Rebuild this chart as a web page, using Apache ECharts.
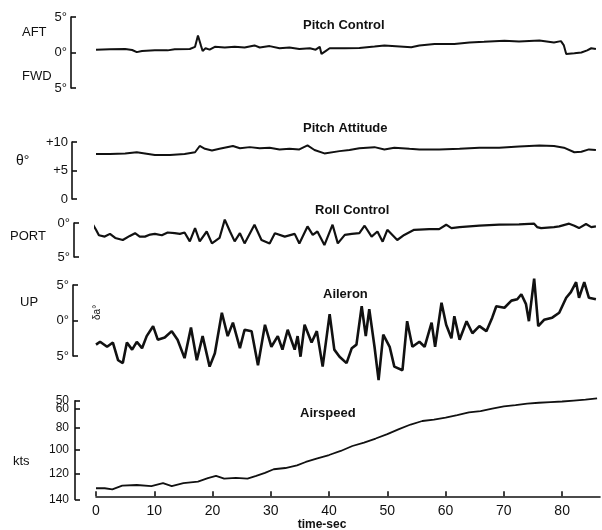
<!DOCTYPE html>
<html>
<head>
<meta charset="utf-8">
<script src="https://cdn.jsdelivr.net/npm/echarts@6/dist/echarts.min.js"></script>
<style>
  html, body { margin: 0; padding: 0; background: #fff; }
  #chart { width: 602px; height: 530px; }
</style>
</head>
<body>
<div id="chart"></div>
<script>
/* -------------------------------------------------------------------------- */
/*                      Transition time history, 5 panels                     */
/* -------------------------------------------------------------------------- */
// [time sec, value]
var pitchControl = [
  [0, 0.4], [2.4, 0.45], [5.0, 0.5], [6.2, 0.35], [7.0, 0.05], [7.9, 0.2], [10.1, 0.3],
  [12.3, 0.3], [13.5, 0.45], [16.1, 0.5], [17.0, 0.8], [17.5, 2.4], [18.0, 1.0], [18.3, 0.2],
  [18.8, 0.6], [19.5, 0.4], [20.4, 0.8], [22.1, 0.7], [23.8, 0.8], [25.5, 0.7], [27.2, 1.0],
  [28.1, 0.7], [29.8, 0.9], [31.5, 0.6], [33.2, 0.7], [34.9, 0.5], [36.7, 0.6], [37.7, 0.4],
  [38.4, 0.8], [38.7, -0.2], [39.4, 0.2], [40.1, 0.6], [42.7, 0.6], [45.2, 0.65], [47.8, 0.85],
  [49.5, 1.0], [54.1, 0.75], [55.5, 1.0], [58.1, 1.2], [61.5, 1.2], [64.1, 1.4], [66.6, 1.5],
  [70.1, 1.65], [72.6, 1.55], [76.1, 1.7], [78.6, 1.4], [79.8, 1.6], [80.3, 1.0], [80.7, -0.2],
  [82.1, -0.1], [83.3, 0.0], [84.3, 0.3], [85.0, 0.6], [85.8, 0.5]
];

var pitchAttitude = [
  [0, 7.9], [2.4, 7.9], [5.0, 8.0], [7.0, 8.2], [8.4, 8.0], [10.1, 7.7], [12.7, 7.7],
  [15.2, 7.9], [17.0, 8.2], [17.8, 9.3], [18.7, 8.8], [19.9, 8.5], [21.2, 8.8], [23.5, 9.3],
  [24.7, 8.9], [26.4, 9.1], [28.1, 8.9], [29.8, 9.0], [31.5, 8.7], [33.2, 8.8], [34.9, 8.7],
  [36.3, 9.4], [37.5, 8.6], [39.2, 8.0], [41.8, 8.4], [43.5, 8.6], [45.2, 8.9], [47.8, 9.1],
  [49.5, 8.7], [51.2, 9.0], [53.8, 8.8], [55.5, 8.7], [58.9, 8.7], [62.4, 8.8], [65.8, 9.0],
  [69.2, 9.0], [72.6, 9.2], [76.1, 9.4], [78.6, 9.3], [80.3, 9.0], [82.1, 8.2], [83.3, 8.3],
  [84.6, 8.7], [85.8, 8.6]
];

var rollControl = [
  [-0.7, 0.0], [0, 1.0], [0.5, 1.8], [1.5, 2.0], [2.4, 1.6], [3.3, 2.2], [4.6, 2.5], [5.8, 1.9],
  [6.7, 1.5], [7.5, 2.0], [8.4, 2.0], [9.3, 1.7], [10.1, 1.6], [11.3, 1.8], [12.3, 1.4],
  [13.5, 1.5], [14.4, 1.6], [15.2, 1.4], [16.1, 2.7], [17.0, 0.75], [17.8, 2.7], [19.0, 1.25],
  [19.9, 3.0], [21.2, 2.2], [22.1, -0.5], [23.0, 1.25], [23.8, 2.7], [24.7, 1.5], [25.5, 3.0],
  [27.2, 0.25], [28.4, 2.5], [29.8, 3.0], [30.7, 1.5], [32.4, 2.0], [34.1, 1.6], [34.9, 3.0],
  [36.3, 0.5], [37.2, 1.75], [38.0, 1.25], [39.2, 3.25], [40.6, 0.25], [41.5, 3.0], [42.7, 1.75],
  [43.9, 1.6], [45.2, 1.5], [46.1, 0.4], [47.3, 2.0], [48.3, 1.25], [49.2, 2.75], [50.0, 1.0],
  [51.7, 2.5], [52.9, 1.75], [54.6, 1.0], [57.2, 0.9], [58.9, 0.9], [60.1, 0.25], [61.0, 0.75],
  [62.4, 0.6], [65.8, 0.4], [69.2, 0.25], [72.6, 0.2], [75.2, 0.1], [75.7, 0.6], [76.4, 0.75],
  [78.6, 0.6], [79.5, 0.5], [81.2, 0.1], [82.1, 0.4], [82.9, 0.75], [84.1, 0.15], [85.0, 0.6],
  [85.8, 0.5]
];

var aileron = [
  [0, -3.4], [0.7, -3.0], [1.9, -3.7], [2.9, -3.1], [3.8, -5.6], [4.6, -6.0], [5.3, -3.1],
  [6.2, -4.1], [7.0, -3.0], [7.9, -3.9], [8.7, -2.2], [9.8, -0.8], [10.6, -2.7], [11.8, -2.4],
  [13.0, -1.5], [14.0, -2.7], [15.2, -5.3], [16.3, -1.0], [17.3, -5.6], [18.3, -2.2],
  [19.5, -6.5], [20.4, -4.6], [21.6, 1.1], [22.6, -2.2], [23.5, -0.3], [24.7, -3.9],
  [25.5, -1.3], [26.7, -1.5], [27.8, -6.3], [29.0, -0.6], [30.1, -3.7], [31.2, -2.2],
  [32.0, -4.1], [32.9, -1.3], [34.1, -4.1], [34.6, -2.2], [35.1, -5.1], [35.8, -0.6],
  [37.0, -3.1], [37.9, -1.5], [38.9, -6.5], [40.1, 0.9], [40.9, -4.1], [41.8, -5.1],
  [43.0, -6.0], [43.9, -3.9], [44.7, -3.4], [45.6, 2.0], [46.3, -2.2], [46.9, 1.6],
  [47.8, -3.7], [48.5, -8.4], [49.3, -2.0], [50.4, -3.7], [51.2, -6.5], [52.6, -7.0],
  [53.4, -0.1], [54.3, -3.7], [55.5, -3.0], [56.4, -3.7], [57.6, -0.3], [58.2, -3.7],
  [59.3, 2.5], [60.1, -0.6], [61.0, -2.5], [61.5, 0.6], [62.4, -2.7], [63.6, -0.1],
  [64.6, -1.8], [65.8, -0.8], [67.0, -1.5], [68.0, 0.4], [68.7, 2.0], [70.1, 1.8],
  [71.3, 2.8], [72.3, 3.0], [73.0, 3.7], [73.8, 2.3], [74.3, -0.1], [75.2, 5.9], [75.9, -0.8],
  [76.9, 0.1], [78.3, 0.4], [79.5, 1.1], [80.7, 3.2], [81.5, 4.0], [82.4, 5.4], [82.9, 3.2],
  [83.8, 5.4], [84.6, 3.2], [85.8, 3.0]
];

var airspeed = [
  [0, 131.5], [1.5, 131.5], [2.8, 132.3], [4.5, 129.5], [7, 129.0], [9.5, 129.8], [11.5, 127.5],
  [13, 129.8], [15, 127.5], [17.5, 126.4], [19.2, 123.7], [20.6, 121.9], [22, 124.1],
  [24, 123.5], [26, 124.1], [27.5, 121.9], [29, 119.5], [30.5, 116.5], [32.5, 115.5],
  [34.5, 113.3], [36, 110.5], [38, 107.4], [40, 104.6], [42, 101.1], [44, 96.7], [46, 93.6],
  [48, 89.9], [50, 85.7], [52, 80.9], [54, 76.4], [56, 72.8], [58, 71.3], [60, 69.2],
  [62, 66.5], [64, 63.6], [66, 62.2], [68, 59.3], [70, 56.8], [72, 55.3], [74, 53.5],
  [76, 52.5], [78, 51.7], [80, 51.0], [82, 49.8], [84, 48.6], [86, 47.0]
];

var airspeedTicks = [50, 60, 80, 100, 120, 140];
var timeMax = 86.5;

var chartDom = document.getElementById('chart');
var myChart = echarts.init(chartDom);
var ink = '#111';
var font = 'Liberation Sans';

// the airspeed scale on the record is non-linear: plotted here as V^1.5
var scaleV = function (v) { return Math.pow(v, 1.5); };
var unscaleV = function (v) { return String(Math.round(Math.pow(v, 1 / 1.5))); };
var vMin = scaleV(airspeedTicks[0]);
var vMax = scaleV(airspeedTicks[airspeedTicks.length - 1]);

var grids = [
  { top: 17, height: 71 },
  { top: 142, height: 57 },
  { top: 223, height: 34 },
  { top: 285, height: 71 },
  { top: 400.7, height: 98.8 },
  { top: 496, height: 1 },
  { top: 400.7, height: 98.8 }   // overlay for the crowded 50 kt label
].map(function (g) {
  return { left: 96, right: 2, top: g.top, height: g.height };
});

var hiddenX = function (i) {
  return { type: 'value', gridIndex: i, min: 0, max: timeMax, show: false };
};

var yBase = function (i, extra) {
  var axis = {
    type: 'value',
    gridIndex: i,
    axisLine: { show: true, onZero: false, lineStyle: { color: ink, width: 1.6 } },
    axisTick: { show: true, inside: true, length: 5, lineStyle: { color: ink, width: 1.6 } },
    splitLine: { show: false },
    axisLabel: { color: ink, fontSize: 13, fontFamily: font, margin: 4,
      hideOverlap: false, showMinLabel: true, showMaxLabel: true }
  };
  for (var k in extra) {
    if (k === 'axisLabel') {
      for (var j in extra.axisLabel) axis.axisLabel[j] = extra.axisLabel[j];
    } else {
      axis[k] = extra[k];
    }
  }
  return axis;
};

var lineSeries = function (i, data, width) {
  return {
    type: 'line',
    xAxisIndex: i,
    yAxisIndex: i,
    data: data,
    showSymbol: false,
    clip: false,
    animation: false,
    lineStyle: { color: ink, width: width }
  };
};

var titleAt = function (text, left, top) {
  return {
    text: text, left: left, top: top, padding: 0,
    textStyle: { color: ink, fontSize: 13, fontWeight: 'bold', fontFamily: font }
  };
};

var sideText = function (text, left, top, size) {
  return {
    type: 'text', left: left, top: top,
    style: { text: text, fill: ink, font: (size || 13) + 'px "' + font + '"' }
  };
};

var option = {
  backgroundColor: '#fff',
  animation: false,
  grid: grids,
  title: [
    titleAt('Pitch Control', 303, 19),
    titleAt('Pitch Attitude', 303, 122),
    titleAt('Roll Control', 315, 204),
    titleAt('Aileron', 323, 288),
    titleAt('Airspeed', 300, 407)
  ],
  xAxis: [
    hiddenX(0), hiddenX(1), hiddenX(2), hiddenX(3), hiddenX(4),
    {
      type: 'value', gridIndex: 5, min: 0, max: timeMax, interval: 10,
      position: 'bottom',
      axisLine: { show: true, onZero: false, lineStyle: { color: ink, width: 1.6 } },
      axisTick: { show: true, inside: true, length: 5, lineStyle: { color: ink, width: 1.6 } },
      splitLine: { show: false },
      axisLabel: { color: ink, fontSize: 14, fontFamily: font, margin: 8, showMaxLabel: false },
      name: 'time-sec',
      nameLocation: 'middle',
      nameGap: 22,
      nameTextStyle: { color: ink, fontSize: 12, fontWeight: 'bold', fontFamily: font, padding: [0, 52, 0, 0] }
    },
    hiddenX(6)
  ],
  yAxis: [
    yBase(0, { min: -5, max: 5, interval: 5, offset: 25,
      axisLabel: { formatter: function (v) { return Math.abs(v) + '°'; } } }),
    yBase(1, { min: 0, max: 10, interval: 5, offset: 24,
      axisLabel: { formatter: function (v) { return v === 0 ? '0' : '+' + v; } } }),
    yBase(2, { min: 0, max: 5, interval: 5, offset: 22, inverse: true,
      axisLabel: { formatter: function (v) { return v + '°'; } } }),
    yBase(3, { min: -5, max: 5, interval: 5, offset: 23,
      axisLabel: { formatter: function (v) { return Math.abs(v) + '°'; } } }),
    yBase(4, { min: vMin, max: vMax, offset: 21, inverse: true,
      axisTick: { show: true, inside: true, length: 5, lineStyle: { color: ink, width: 1.6 },
        customValues: airspeedTicks.map(scaleV) },
      axisLabel: { margin: 6, fontSize: 12,
        customValues: airspeedTicks.slice(1).map(scaleV), formatter: unscaleV } }),
    { type: 'value', gridIndex: 5, show: false, min: 0, max: 1 },
    yBase(6, { min: vMin, max: vMax, offset: 21, inverse: true, position: 'left',
      axisLine: { show: false, onZero: false },
      axisTick: { show: false },
      axisLabel: { margin: 6, fontSize: 12, padding: [0, 0, 6, 0],
        customValues: [vMin], formatter: unscaleV } })
  ],
  graphic: [
    sideText('AFT', 22, 26),
    sideText('FWD', 22, 70),
    sideText('θ°', 16, 154, 14),
    sideText('PORT', 10, 230),
    sideText('UP', 20, 296),
    sideText('kts', 13, 455),
    {
      type: 'text', x: 92, y: 320, rotation: Math.PI / 2,
      style: { text: 'δa°', fill: ink, font: '10px "' + font + '"' }
    }
  ],
  series: [
    lineSeries(0, pitchControl, 2),
    lineSeries(1, pitchAttitude, 2),
    lineSeries(2, rollControl, 2.2),
    lineSeries(3, aileron, 2.6),
    lineSeries(4, airspeed.map(function (p) { return [p[0], scaleV(p[1])]; }), 1.8)
  ]
};

option && myChart.setOption(option);
</script>
</body>
</html>
